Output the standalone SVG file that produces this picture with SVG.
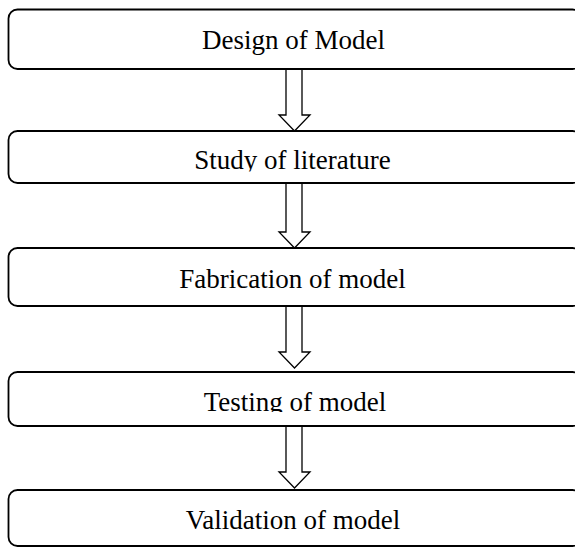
<svg xmlns="http://www.w3.org/2000/svg" width="575" height="548" viewBox="0 0 575 548">
<style>
.box{fill:#fff;stroke:#000;stroke-width:1.8}
.lbl{font-family:"Liberation Serif","Times New Roman",serif;font-size:27px;fill:#000;text-anchor:middle}
.arr{fill:#fff;stroke:#000;stroke-width:1.3;stroke-linejoin:miter}
</style>
<defs>
<clipPath id="clip2"><rect x="0" y="130" width="575" height="41.5"/></clipPath>
<clipPath id="clip4"><rect x="0" y="370" width="575" height="42"/></clipPath>
</defs>
<rect width="575" height="548" fill="#fff"/>
<g id="connectors">
<path class="arr" d="M286,69 V115 H279 L294.5,131 L310,115 H302 V69"/>
<path class="arr" d="M286,183 V232 H279 L294.5,248 L310,232 H302 V183"/>
<path class="arr" d="M286,306 V352 H279 L294.5,368 L310,352 H302 V306"/>
<path class="arr" d="M286,426 V472 H279 L294.5,488 L310,472 H302 V426"/>
</g>
<g id="node1">
<rect class="box" x="8.5" y="9.5" width="573" height="59.5" rx="9"/>
<text class="lbl" x="293.5" y="48.5">Design of Model</text>
</g>
<g id="node2">
<rect class="box" x="8.5" y="131" width="573" height="52" rx="9"/>
<text class="lbl" x="292.5" y="168.5" clip-path="url(#clip2)">Study of literature</text>
</g>
<g id="node3">
<rect class="box" x="8.5" y="248" width="573" height="58" rx="9"/>
<text class="lbl" x="292.5" y="287.5">Fabrication of model</text>
</g>
<g id="node4">
<rect class="box" x="8.5" y="372" width="573" height="54" rx="9"/>
<text class="lbl" x="295" y="411" clip-path="url(#clip4)">Testing of model</text>
</g>
<g id="node5">
<rect class="box" x="8.5" y="490" width="573" height="56" rx="9"/>
<text class="lbl" x="293" y="529">Validation of model</text>
</g>
</svg>
